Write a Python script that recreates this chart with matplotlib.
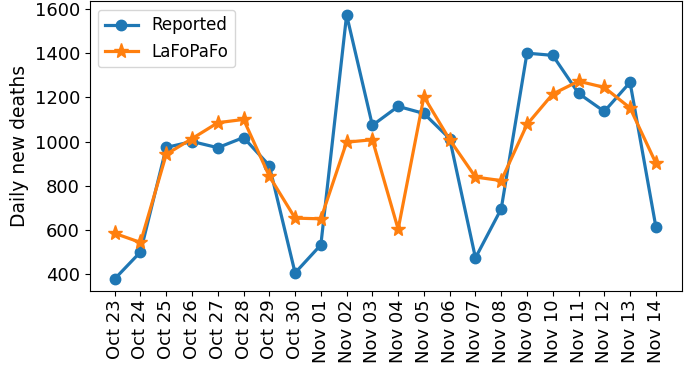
import numpy as np
import matplotlib
matplotlib.use("Agg")
import matplotlib.pyplot as plt

dates = ["Oct 23", "Oct 24", "Oct 25", "Oct 26", "Oct 27", "Oct 28", "Oct 29", "Oct 30",
         "Nov 01", "Nov 02", "Nov 03", "Nov 04", "Nov 05", "Nov 06", "Nov 07", "Nov 08",
         "Nov 09", "Nov 10", "Nov 11", "Nov 12", "Nov 13", "Nov 14"]
reported = [378, 500, 973, 1000, 972, 1018, 891, 405, 532, 1573, 1073, 1159, 1127, 1013,
            473, 695, 1400, 1390, 1218, 1136, 1268, 615]
lafopafo = [584, 543, 942, 1013, 1085, 1100, 843, 653, 650, 997, 1008, 603, 1203, 1008,
            839, 823, 1077, 1215, 1273, 1245, 1152, 903]

plt.rcParams["font.size"] = 13
plt.rcParams["xtick.major.pad"] = 2.5

fig = plt.figure(figsize=(6.85, 3.67), dpi=100)
ax = fig.add_axes([0.131, 0.207, 0.864, 0.789])

x = np.arange(len(dates))
ax.plot(x, reported, "-o", color="#1f77b4", linewidth=2.3, markersize=7.5, label="Reported")
ax.plot(x, lafopafo, "-*", color="#ff7f0e", linewidth=2.3, markersize=11, label="LaFoPaFo")

ax.set_xticks(x)
ax.set_xticklabels(dates, rotation=90)
ax.set_xlim(-0.97, 22.0)
ax.set_ylim(323, 1634)
ax.set_yticks([400, 600, 800, 1000, 1200, 1400, 1600])
ax.set_ylabel("Daily new deaths", fontsize=13.5)
ax.legend(loc="upper left", fontsize=12)

fig.savefig("out.png", dpi=100)
